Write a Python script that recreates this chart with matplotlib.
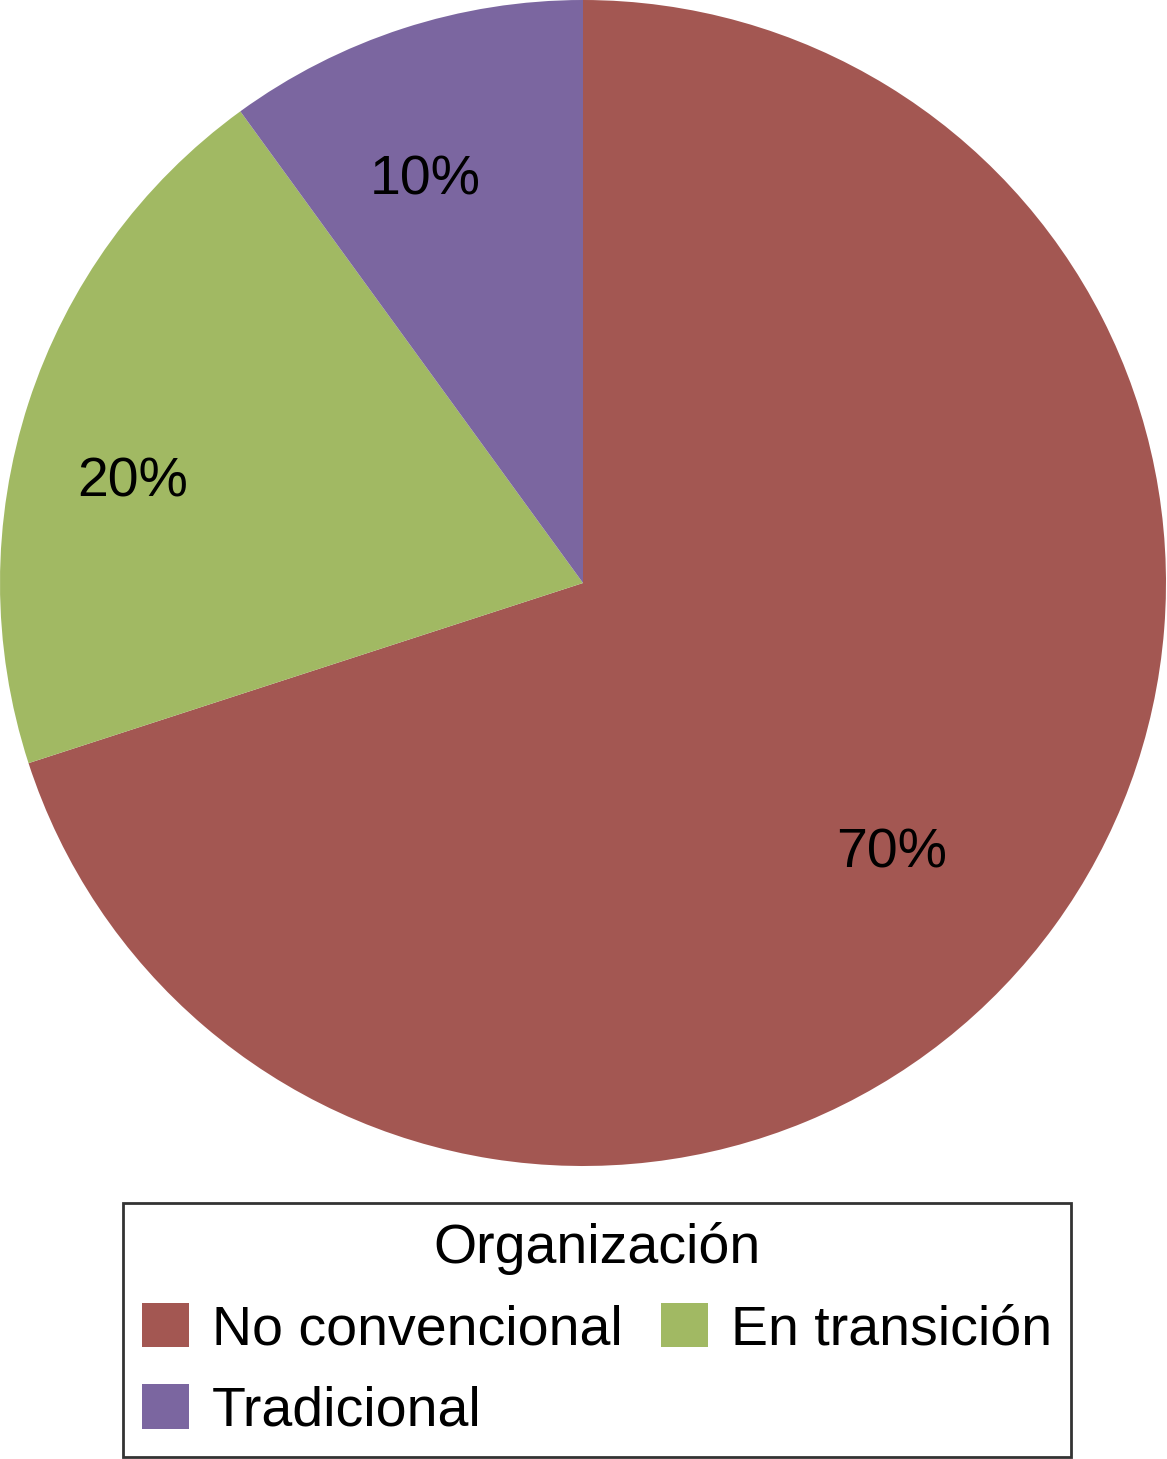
import matplotlib.pyplot as plt
from matplotlib.patches import Patch

# data
categories = ["No convencional", "En transición", "Tradicional"]
values = [70, 20, 10]
colors = ["#A35752", "#A1B963", "#7B66A0"]
legend_title = "Organización"

plt.rcParams["font.family"] = ["Liberation Sans", "DejaVu Sans"]

W, H = 1167, 1459
fig = plt.figure(figsize=(W / 100, H / 100), dpi=100)

# pie occupies a square at the top of the figure
ax = fig.add_axes([0, 1 - 1166 / H, 1166 / W, 1166 / H])
wedges, texts, autotexts = ax.pie(
    values, colors=colors, startangle=90, counterclock=False,
    autopct="%1.0f%%", pctdistance=0.75,
    wedgeprops=dict(linewidth=0),
    textprops=dict(fontsize=40, color="black"),
)
ax.set_xlim(-1, 1)
ax.set_ylim(-1, 1)
ax.set_aspect("equal")
ax.axis("off")

# Excel-style label spots (fraction of radius)
label_pos = [(0.53, -0.464), (-0.773, 0.173), (-0.271, 0.691)]
for t, (x, y) in zip(autotexts, label_pos):
    t.set_position((x, y))
    t.set_ha("center")
    t.set_va("center")

# legend laid out row-wise: reorder for column-major fill
handles = [Patch(facecolor=c, edgecolor="none") for c in colors]
order = [0, 2, 1]
leg = fig.legend(
    [handles[i] for i in order], [categories[i] for i in order],
    title=legend_title, ncol=2, loc="center",
    bbox_to_anchor=(597 / W, 1 - 1330 / H),
    fontsize=40, title_fontsize=40,
    frameon=True, fancybox=False, edgecolor="black",
    handlelength=0.85, handleheight=0.85, handletextpad=0.4,
    columnspacing=0.7, labelspacing=0.5, borderpad=0.35,
)
leg.get_frame().set_linewidth(2)

fig.savefig("out.png", dpi=100)
